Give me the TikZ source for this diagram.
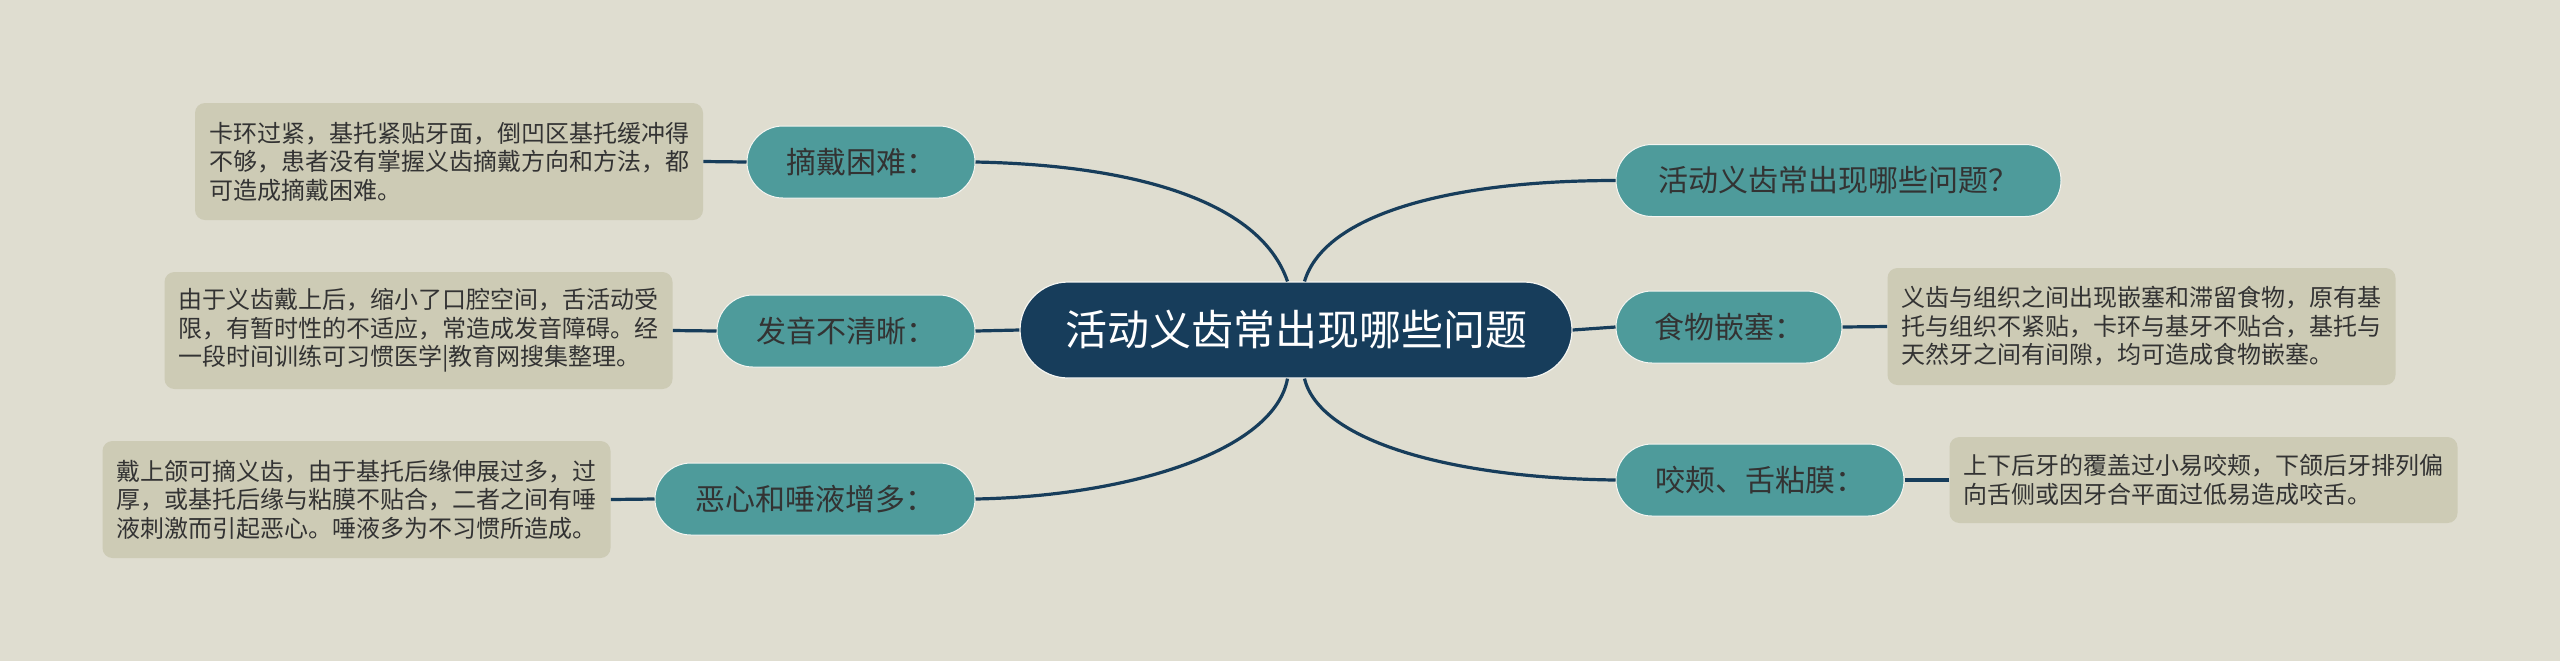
\documentclass[tikz,border=0pt]{standalone}
\usepackage{fontspec}
\setmainfont{Noto Sans CJK SC}
\definecolor{bgc}{HTML}{DFDDD0}
\definecolor{navy}{HTML}{173D5B}
\definecolor{tealc}{HTML}{4E9B9B}
\definecolor{boxc}{HTML}{CDCBB5}
\definecolor{txt}{HTML}{333333}
\tikzset{mainnode/.style={draw=white!70!bgc, line width=0.6pt, fill=navy, text=white, rectangle, rounded corners=24pt, minimum width=276pt, minimum height=48pt, font=\fontsize{21}{25}\selectfont},
subnode/.style={draw=white!70!bgc, line width=0.5pt, fill=tealc, text=txt, rectangle, rounded corners=18pt, minimum height=36pt, font=\fontsize{15}{18}\selectfont},
notebox/.style={fill=boxc, text=txt, rectangle, rounded corners=5pt, text width=240pt, inner xsep=7pt, inner ysep=0pt, align=left, minimum height=58.5pt, font=\fontsize{12}{14.25}\selectfont},
conn/.style={draw=navy, line width=1.6pt}}
\begin{document}
\begin{tikzpicture}[x=0.5pt,y=-0.5pt]
\fill[bgc] (0,0) rectangle (2560,661);
\useasboundingbox (0,0) rectangle (2560,661);
\node[mainnode] (c) at (1296,330) {活动义齿常出现哪些问题};
\node[subnode, minimum width=114pt] (zd) at (861,162) {摘戴困难：};
\node[subnode, minimum width=129pt] (fy) at (846,331) {发音不清晰：};
\node[subnode, minimum width=160pt] (ex) at (815,499) {恶心和唾液增多：};
\node[subnode, minimum width=222.5pt] (wt) at (1838.5,180.5) {活动义齿常出现哪些问题？};
\node[subnode, minimum width=113pt] (sw) at (1729,327) {食物嵌塞：};
\node[subnode, minimum width=144pt] (yj) at (1760,480) {咬颊、舌粘膜：};
\node[notebox] (zdn) at (449,161.5) {卡环过紧，基托紧贴牙面，倒凹区基托缓冲得\\不够，患者没有掌握义齿摘戴方向和方法，都\\可造成摘戴困难。};
\node[notebox] (fyn) at (418.5,330.5) {由于义齿戴上后，缩小了口腔空间，舌活动受\\限，有暂时性的不适应，常造成发音障碍。经\\一段时间训练可习惯医学|教育网搜集整理。};
\node[notebox] (exn) at (356.5,499.5) {戴上颌可摘义齿，由于基托后缘伸展过多，过\\厚，或基托后缘与粘膜不贴合，二者之间有唾\\液刺激而引起恶心。唾液多为不习惯所造成。};
\node[notebox] (swn) at (2141.5,326.5) {义齿与组织之间出现嵌塞和滞留食物，原有基\\托与组织不紧贴，卡环与基牙不贴合，基托与\\天然牙之间有间隙，均可造成食物嵌塞。};
\node[notebox, minimum height=43pt] (yjn) at (2203.5,480) {上下后牙的覆盖过小易咬颊，下颌后牙排列偏\\向舌侧或因牙合平面过低易造成咬舌。};
\draw[conn] ([xshift=-4.25pt]c.north) .. controls +(-28,-82) and +(155,3) .. (zd.east);
\draw[conn] ([xshift=4.25pt]c.north) .. controls +(20,-67) and +(-166,0) .. (wt.west);
\draw[conn] ([xshift=-4.25pt]c.south) .. controls +(-13,72) and +(155,-3) .. (ex.east);
\draw[conn] ([xshift=4.25pt]c.south) .. controls +(15,62) and +(-166,-2) .. (yj.west);
\draw[conn] (c.west) -- (fy.east);
\draw[conn] (c.east) -- (sw.west);
\draw[conn] (zdn.east) -- (zd.west);
\draw[conn] (fyn.east) -- (fy.west);
\draw[conn] (exn.east) -- (ex.west);
\draw[conn] (sw.east) -- (swn.west);
\draw[conn] (yj.east) -- (yjn.west);
\end{tikzpicture}
\end{document}
